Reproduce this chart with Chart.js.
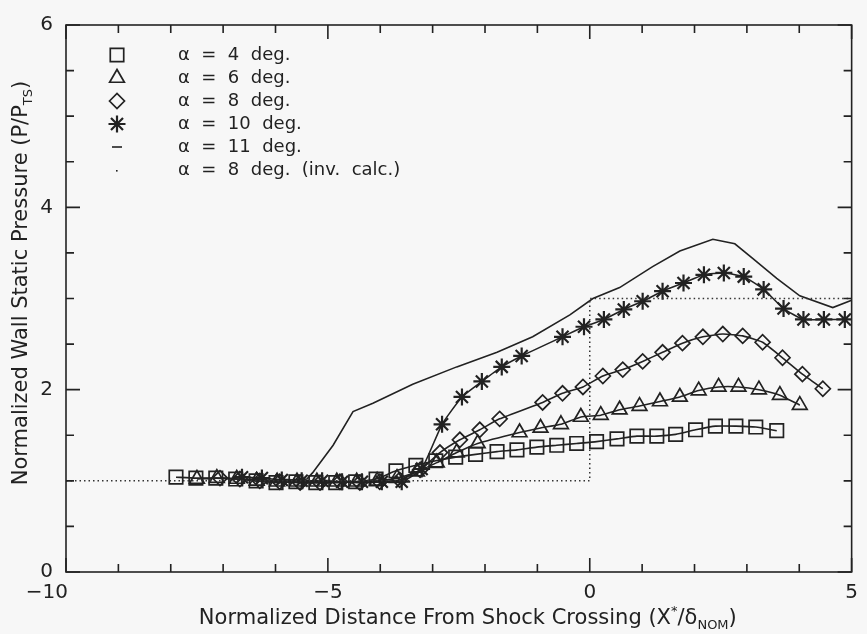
<!DOCTYPE html>
<html>
<head>
<meta charset="utf-8">
<script src="https://cdn.jsdelivr.net/npm/chart.js@4.4.1/dist/chart.umd.min.js"></script>
<style>
html, body { margin: 0; padding: 0; background: #f7f7f7; }
canvas { display: block; }
</style>
</head>
<body>
<canvas id="plot" width="867" height="634"></canvas>
<script>
// wall pressure ratios along the probe row, one pair of arrays per angle
const x4  = [-7.90,-7.52,-7.14,-6.76,-6.37,-5.99,-5.61,-5.23,-4.85,-4.47,-4.08,-3.70,-3.32,-2.94,-2.56,-2.18,-1.77,-1.39,-1.01,-0.63,-0.25,0.13,0.52,0.90,1.28,1.64,2.02,2.40,2.79,3.17,3.57]
const p4  = [1.04,1.03,1.03,1.02,1.00,0.98,0.99,0.98,0.98,0.99,1.02,1.11,1.17,1.22,1.26,1.29,1.32,1.34,1.37,1.39,1.41,1.43,1.46,1.49,1.49,1.51,1.56,1.60,1.60,1.59,1.55]

const x6  = [-7.50,-7.12,-6.74,-6.36,-5.97,-5.59,-5.21,-4.83,-4.45,-4.06,-3.68,-3.30,-2.92,-2.54,-2.14,-1.34,-0.94,-0.55,-0.17,0.21,0.57,0.95,1.34,1.72,2.08,2.46,2.84,3.23,3.63,4.01]
const p6  = [1.02,1.03,1.02,1.00,0.99,0.99,0.99,0.99,0.99,1.00,1.03,1.10,1.20,1.31,1.41,1.53,1.58,1.62,1.70,1.72,1.78,1.82,1.87,1.92,1.99,2.03,2.03,2.00,1.94,1.83]

const x8  = [-7.06,-6.68,-6.30,-5.92,-5.53,-5.15,-4.77,-4.39,-4.01,-3.63,-3.24,-2.86,-2.48,-2.10,-1.72,-0.90,-0.52,-0.13,0.25,0.63,1.01,1.39,1.77,2.16,2.54,2.92,3.30,3.68,4.06,4.45]
const p8  = [1.03,1.02,1.00,0.99,0.98,0.98,0.99,0.98,0.99,1.01,1.12,1.31,1.45,1.56,1.68,1.86,1.96,2.03,2.15,2.22,2.31,2.41,2.51,2.58,2.61,2.59,2.52,2.35,2.17,2.01]

const x10 = [-6.64,-6.26,-5.88,-5.50,-5.11,-4.73,-4.35,-3.97,-3.59,-3.21,-2.82,-2.44,-2.06,-1.68,-1.30,-0.52,-0.11,0.27,0.65,1.01,1.39,1.79,2.18,2.56,2.94,3.32,3.70,4.08,4.47,4.87]
const p10 = [1.04,1.03,1.01,1.00,1.00,0.99,0.99,0.99,0.99,1.13,1.62,1.92,2.09,2.25,2.37,2.58,2.69,2.77,2.88,2.97,3.08,3.17,3.26,3.28,3.24,3.10,2.89,2.77,2.77,2.77]

const x11 = [-6.5,-6.0,-5.4,-5.29,-4.90,-4.52,-4.14,-3.38,-2.54,-1.77,-1.09,-0.38,0.06,0.57,1.20,1.72,2.35,2.77,3.11,3.57,4.01,4.64,5.0]
const p11 = [1.02,1.00,1.02,1.09,1.39,1.76,1.85,2.06,2.25,2.41,2.58,2.82,3.00,3.12,3.35,3.52,3.65,3.60,3.44,3.22,3.03,2.90,2.98]

// inviscid step: upstream level, then jump at the shock crossing
const xInv = [-10, 0, 0, 5]
const pInv = [1, 1, 3, 3]

const xTicks = [-10, -5, 0, 5]
const yTicks = [0, 2, 4, 6]

const INK = '#222'
const FONT = '"DejaVu Sans", sans-serif'

const pair = (xs, ys) => xs.map((v, i) => ({x: v, y: ys[i]}))

const series = (label, xs, ys, style, r, bw) => ({
    label,
    data: pair(xs, ys),
    showLine: true,
    borderColor: INK,
    borderWidth: 1.6,
    tension: 0.15,
    pointStyle: style,
    pointRadius: r,
    pointBorderWidth: bw,
    pointBorderColor: INK,
    pointBackgroundColor: 'rgba(0,0,0,0)'
})

const legendRows = [
    {text: 'α  =  4  deg.',  style: 'rect',    r: 9.5, bw: 1.7},
    {text: 'α  =  6  deg.',  style: 'triangle', r: 8.5, bw: 1.7},
    {text: 'α  =  8  deg.',  style: 'rectRot', r: 7.5, bw: 1.7},
    {text: 'α  =  10  deg.', style: 'star',    r: 8.5, bw: 2.2},
    {text: 'α  =  11  deg.', style: 'dash'},
    {text: 'α  =  8  deg.  (inv.  calc.)', style: 'dot'}
]

// text with sub/superscript pieces, centred on (0,0) of the current transform
function richText(ctx, parts, size) {
    const big = size + 'px ' + FONT, small = Math.round(size * 0.62) + 'px ' + FONT
    let w = 0
    parts.forEach(p => { ctx.font = p.sub || p.sup ? small : big; w += ctx.measureText(p.t).width })
    let x = -w / 2
    ctx.textBaseline = 'middle'
    ctx.textAlign = 'left'
    parts.forEach(p => {
        ctx.font = p.sub || p.sup ? small : big
        const dy = p.sub ? size * 0.32 : p.sup ? -size * 0.35 : 0
        ctx.fillText(p.t, x, dy)
        x += ctx.measureText(p.t).width
    })
}

const frame = {
    id: 'frame',
    beforeDraw(chart) {
        const {ctx, width, height} = chart
        ctx.save()
        ctx.fillStyle = '#f7f7f7'
        ctx.fillRect(0, 0, width, height)
        ctx.restore()
    },
    afterDraw(chart) {
        const {ctx, chartArea: a, scales: {x, y}} = chart
        ctx.save()
        ctx.strokeStyle = INK
        ctx.lineWidth = 1.6
        ctx.strokeRect(a.left, a.top, a.right - a.left, a.bottom - a.top)

        // inward ticks on all four sides
        ctx.beginPath()
        for (let v = -10; v <= 5; v++) {
            const px = x.getPixelForValue(v), len = v % 5 === 0 ? 14 : 8
            ctx.moveTo(px, a.bottom); ctx.lineTo(px, a.bottom - len)
            ctx.moveTo(px, a.top); ctx.lineTo(px, a.top + len)
        }
        for (let v = 0; v <= 6; v += 0.5) {
            const py = y.getPixelForValue(v), len = v % 2 === 0 ? 14 : 8
            ctx.moveTo(a.left, py); ctx.lineTo(a.left + len, py)
            ctx.moveTo(a.right, py); ctx.lineTo(a.right - len, py)
        }
        ctx.stroke()

        // axis titles
        ctx.fillStyle = INK
        ctx.save()
        ctx.translate((a.left + a.right) / 2 + 9, 619)
        richText(ctx, [
            {t: 'Normalized Distance From Shock Crossing (X'}, {t: '*', sup: true},
            {t: '/δ'}, {t: 'NOM', sub: true}, {t: ')'}
        ], 21)
        ctx.restore()
        ctx.save()
        ctx.translate(22, 283)
        ctx.rotate(-Math.PI / 2)
        richText(ctx, [
            {t: 'Normalized Wall Static Pressure (P/P'}, {t: 'TS', sub: true}, {t: ')'}
        ], 21)
        ctx.restore()

        // key in the upper left corner
        ctx.font = '18px ' + FONT
        ctx.textBaseline = 'middle'
        ctx.textAlign = 'left'
        legendRows.forEach((row, i) => {
            const ly = 55 + i * 23, lx = 117
            ctx.fillText(row.text, 178, ly)
            ctx.strokeStyle = INK
            ctx.fillStyle = 'rgba(0,0,0,0)'
            if (row.style === 'dash') {
                ctx.lineWidth = 1.6
                ctx.beginPath(); ctx.moveTo(lx - 5, ly); ctx.lineTo(lx + 5, ly); ctx.stroke()
            } else if (row.style === 'dot') {
                ctx.fillStyle = INK
                ctx.fillRect(lx - 1, ly, 1.6, 1.6)
            } else {
                ctx.lineWidth = row.bw
                Chart.helpers.drawPoint(ctx, {pointStyle: row.style, radius: row.r, rotation: 0, borderWidth: row.bw}, lx, ly)
            }
            ctx.fillStyle = INK
        })
        ctx.restore()
    }
}

new Chart(document.getElementById('plot'), {
    type: 'scatter',
    data: {
        datasets: [
            {
                label: 'α = 8 deg. (inv. calc.)',
                data: pair(xInv, pInv),
                showLine: true,
                borderColor: '#333',
                borderWidth: 1.5,
                borderDash: [1.5, 3],
                pointRadius: 0
            },
            {
                label: 'α = 11 deg.',
                data: pair(x11, p11),
                showLine: true,
                borderColor: INK,
                borderWidth: 1.6,
                pointRadius: 0
            },
            series('α = 4 deg.', x4, p4, 'rect', 9.5, 1.7),
            series('α = 6 deg.', x6, p6, 'triangle', 8.5, 1.7),
            series('α = 8 deg.', x8, p8, 'rectRot', 7.5, 1.7),
            series('α = 10 deg.', x10, p10, 'star', 8.5, 2.2)
        ]
    },
    options: {
        responsive: false,
        animation: false,
        layout: {padding: {top: 12, right: 15, left: 0, bottom: 0}},
        plugins: {
            legend: {display: false},
            tooltip: {enabled: false}
        },
        scales: {
            x: {
                type: 'linear',
                min: xTicks[0],
                max: xTicks[xTicks.length - 1],
                afterBuildTicks: s => { s.ticks = xTicks.map(v => ({value: v})) },
                afterFit: s => { s.height = 62 },
                grid: {display: false, drawTicks: false},
                border: {display: false},
                ticks: {
                    padding: 9,
                    color: INK,
                    font: {family: FONT, size: 20},
                    // the leftmost label sits out past the corner
                    callback: v => v === xTicks[0] ? '−' + Math.abs(v) + '\u2007\u2007\u2007'
                        : v < 0 ? '−' + Math.abs(v) : String(v)
                }
            },
            y: {
                type: 'linear',
                min: yTicks[0],
                max: yTicks[yTicks.length - 1],
                afterBuildTicks: s => { s.ticks = yTicks.map(v => ({value: v})) },
                afterFit: s => { s.width = 66 },
                grid: {display: false, drawTicks: false},
                border: {display: false},
                ticks: {
                    padding: 13,
                    color: INK,
                    font: {family: FONT, size: 20}
                }
            }
        }
    },
    plugins: [frame]
})
</script>
</body>
</html>
